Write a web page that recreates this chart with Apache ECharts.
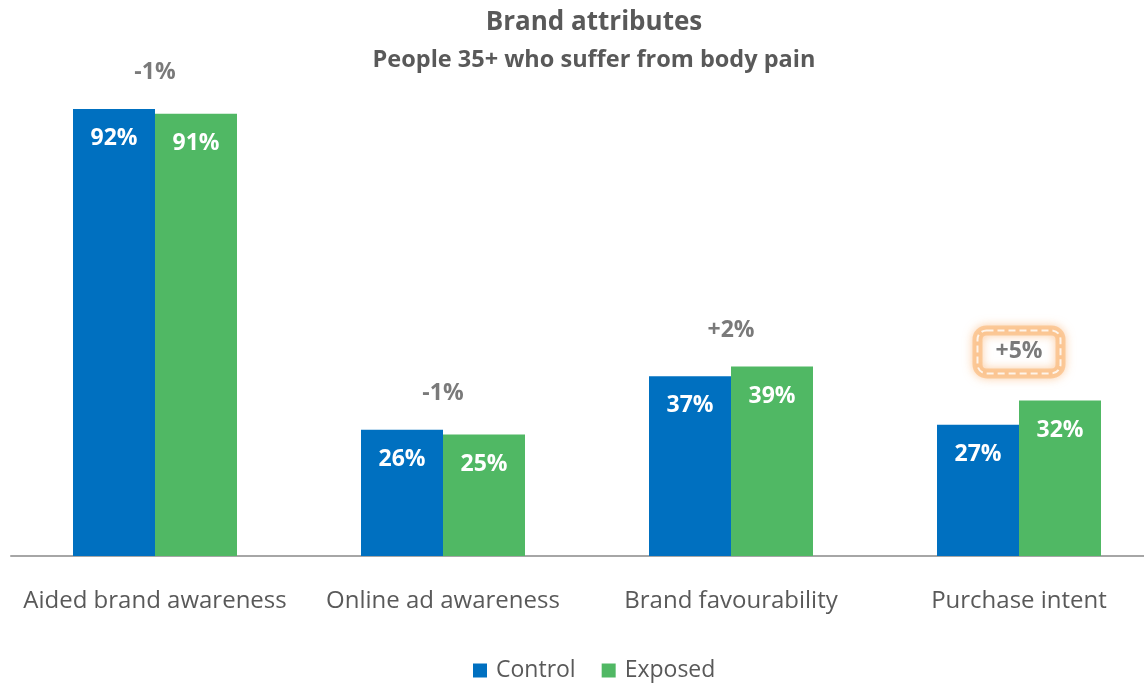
<!DOCTYPE html>
<html>
<head>
<meta charset="utf-8">
<script src="https://cdn.jsdelivr.net/npm/echarts@6/dist/echarts.min.js"></script>
<style>html,body{margin:0;padding:0;background:#fff}#c{width:1144px;height:683px}</style>
</head>
<body>
<div id="c"></div>
<script>
const categories = ['Aided brand awareness', 'Online ad awareness', 'Brand favourability', 'Purchase intent'];
const control = [92, 26, 37, 27];
const exposed = [91, 25, 39, 32];
const diffLabels = ['-1%', '-1%', '+2%', '+5%'];
const highlighted = [false, false, false, true];
const seriesNames = ['Control', 'Exposed'];

const FONT = 'Open Sans';
const GRAY = '#595959';
const chart = echarts.init(document.getElementById('c'), null, {renderer: 'canvas'});

const diffY = categories.map((c, i) => Math.max(control[i], exposed[i]) + (highlighted[i] ? 10 : 7.5));

const diffData = categories.map((c, i) => {
  const item = {value: [i, diffY[i]], name: diffLabels[i]};
  if (highlighted[i]) {
    item.label = {
      borderColor: '#ffffff', borderWidth: 2, borderType: [7, 4], borderRadius: 9,
      padding: [15, 18, 5, 18]
    };
  }
  return item;
});
const glowData = categories.map((c, i) => highlighted[i] ? {value: [i, diffY[i]], name: diffLabels[i]} : null).filter(Boolean);

const barLabel = {
  show: true, position: 'insideTop', distance: 18, color: '#ffffff',
  fontFamily: FONT, fontWeight: 'bold', fontSize: 23,
  formatter: p => p.value + '%'
};

chart.setOption({
  animation: false,
  backgroundColor: '#ffffff',
  title: {
    text: 'Brand attributes',
    subtext: 'People 35+ who suffer from body pain',
    left: 589, textAlign: 'center', top: 5, itemGap: 12,
    textStyle: {fontFamily: FONT, fontWeight: 'bold', fontSize: 26, color: GRAY},
    subtextStyle: {fontFamily: FONT, fontWeight: 'bold', fontSize: 23.5, color: GRAY}
  },
  legend: {
    bottom: -4, left: 468, icon: 'rect', itemWidth: 14, itemHeight: 14, itemGap: 26,
    textStyle: {fontFamily: FONT, fontSize: 23, color: GRAY, padding: [0, 0, 0, 4]},
    data: seriesNames
  },
  grid: {left: 11, width: 1152, top: 70, bottom: 127, containLabel: false, outerBoundsMode: 'none'},
  xAxis: {
    type: 'category', data: categories,
    axisLine: {lineStyle: {color: '#a6a6a6', width: 2}},
    axisTick: {show: false},
    axisLabel: {fontFamily: FONT, fontSize: 24, color: GRAY, margin: 33, interval: 0}
  },
  yAxis: {type: 'value', min: 0, max: 100, show: false, splitLine: {show: false}},
  series: [
    {name: seriesNames[0], type: 'bar', data: control, barWidth: 82, barGap: '0%',
      itemStyle: {color: '#0070c0'}, label: barLabel},
    {name: seriesNames[1], type: 'bar', data: exposed, barWidth: 82,
      itemStyle: {color: '#50b864'}, label: barLabel},
    {name: 'glow', type: 'scatter', data: glowData, symbolSize: 0, z: 5,
      label: {show: true, position: 'inside', formatter: p => p.name,
        fontFamily: FONT, fontWeight: 'bold', fontSize: 23, color: 'rgba(0,0,0,0)',
        padding: [15, 18, 5, 18], borderRadius: 9, borderColor: 'rgba(250,185,120,0.8)', borderWidth: 10,
        shadowColor: 'rgba(250,165,90,0.85)', shadowBlur: 10}},
    {name: 'diff', type: 'scatter', data: diffData, symbolSize: 0, z: 6,
      label: {show: true, position: 'inside', formatter: p => p.name,
        fontFamily: FONT, fontWeight: 'bold', fontSize: 23, color: GRAY}}
  ]
});
</script>
</body>
</html>
